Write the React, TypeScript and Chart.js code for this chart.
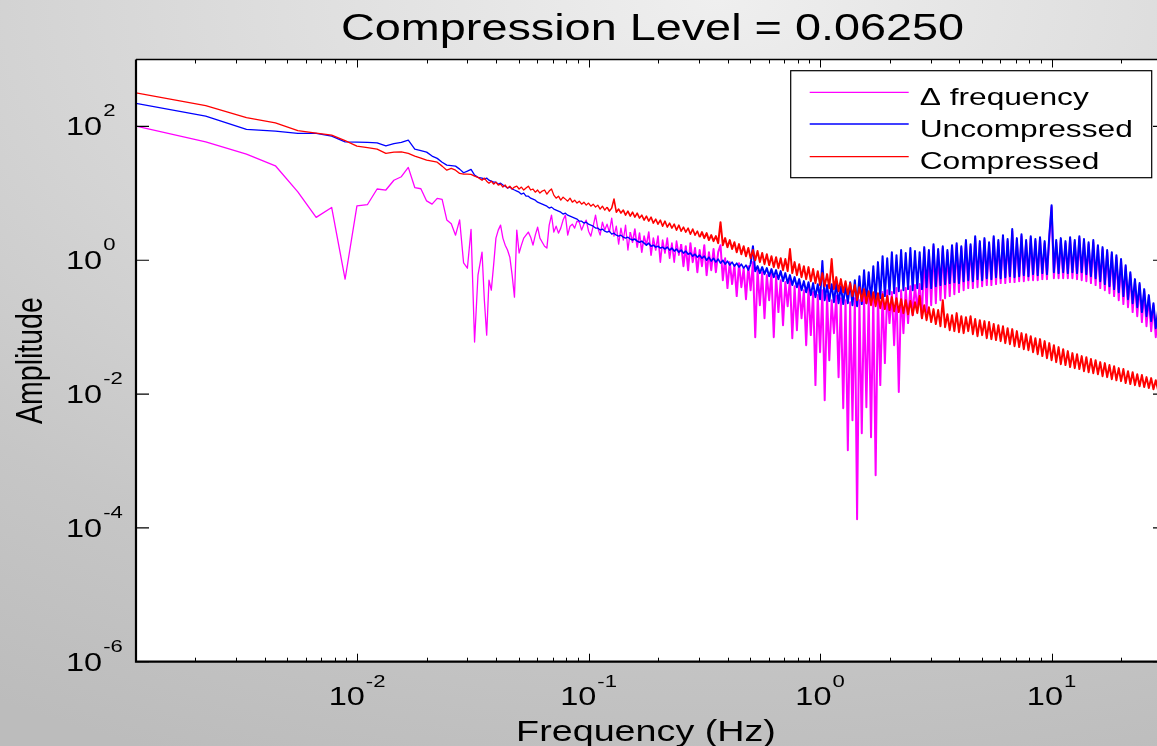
import React, { useEffect, useRef } from 'react';
import { Chart, registerables } from 'chart.js';

Chart.register(...registerables);

// ---------- texts ----------
const TITLE = 'Compression Level = 0.06250';
const X_LABEL = 'Frequency (Hz)';
const Y_LABEL = 'Amplitude';
const SERIES_LABELS = ['\u0394 frequency', 'Uncompressed', 'Compressed'];
const SERIES_COLORS = ['#ff00ff', '#0000ff', '#ff0000'];

// ---------- axes ----------
const X_TICK_EXPONENTS = [-2, -1, 0, 1];
const Y_TICK_EXPONENTS = [2, 0, -2, -4, -6];
const X_MIN = 0.00111;
const X_MAX = 31.2;
const Y_MIN = 1e-6;
const Y_MAX = 1e3;

// ---------- data ----------
const freqHz = [
  0.00111, 0.00222, 0.00333, 0.00444, 0.00555, 0.00666, 0.00777, 0.00888, 0.00999, 0.0111,
  0.01221, 0.01332, 0.01443, 0.01554, 0.01665, 0.01776, 0.01887, 0.01998, 0.02109, 0.0222,
  0.02331, 0.02442, 0.02553, 0.02664, 0.02775, 0.02886, 0.02997, 0.03108, 0.03219, 0.0333,
  0.03467, 0.03548, 0.03631, 0.03715, 0.03802, 0.0389, 0.03981, 0.04074, 0.04169, 0.04266,
  0.04365, 0.04467, 0.04571, 0.04677, 0.04786, 0.04898, 0.05012, 0.05129, 0.05248, 0.0537,
  0.05495, 0.05623, 0.05754, 0.05888, 0.06026, 0.06166, 0.0631, 0.06457, 0.06607, 0.06761,
  0.06918, 0.07079, 0.07244, 0.07413, 0.07586, 0.07762, 0.07943, 0.08128, 0.08318, 0.08511,
  0.0871, 0.08913, 0.0912, 0.09333, 0.0955, 0.09772,
  0.1, 0.1023, 0.1047, 0.1072, 0.1096, 0.1122, 0.1148, 0.1175, 0.1202, 0.123,
  0.1259, 0.1288, 0.1318, 0.1349, 0.138, 0.1413, 0.1445, 0.1479, 0.1514, 0.1549,
  0.1585, 0.1622, 0.166, 0.1698, 0.1738, 0.1778, 0.182, 0.1862, 0.1905, 0.195,
  0.1995, 0.2042, 0.2089, 0.2138, 0.2188, 0.2239, 0.2291, 0.2344, 0.2399, 0.2455,
  0.2512, 0.257, 0.263, 0.2692, 0.2754, 0.2818, 0.2884, 0.2951, 0.302, 0.309,
  0.3162, 0.3236, 0.3311, 0.3388, 0.3467, 0.3548, 0.3631, 0.3715, 0.3802, 0.389,
  0.3981, 0.4074, 0.4169, 0.4266, 0.4365, 0.4467, 0.4571, 0.4677, 0.4786, 0.4898,
  0.5012, 0.5129, 0.5248, 0.537, 0.5495, 0.5623, 0.5754, 0.5888, 0.6026, 0.6166,
  0.631, 0.6457, 0.6607, 0.6761, 0.6918, 0.7079, 0.7244, 0.7413, 0.7586, 0.7762,
  0.7943, 0.8128, 0.8318, 0.8511, 0.871, 0.8913, 0.912, 0.9333, 0.955, 0.9772,
  1, 1.023, 1.047, 1.072, 1.096, 1.122, 1.148, 1.175, 1.202, 1.23,
  1.259, 1.288, 1.318, 1.349, 1.38, 1.413, 1.445, 1.479, 1.514, 1.549,
  1.585, 1.622, 1.66, 1.698, 1.738, 1.778, 1.82, 1.862, 1.905, 1.95,
  1.995, 2.042, 2.089, 2.138, 2.188, 2.239, 2.291, 2.344, 2.399, 2.455,
  2.512, 2.57, 2.63, 2.692, 2.754, 2.818, 2.884, 2.951, 3.02, 3.09,
  3.162, 3.236, 3.311, 3.388, 3.467, 3.548, 3.631, 3.715, 3.802, 3.89,
  3.981, 4.074, 4.169, 4.266, 4.365, 4.467, 4.571, 4.677, 4.786, 4.898,
  5.012, 5.129, 5.248, 5.37, 5.495, 5.623, 5.754, 5.888, 6.026, 6.166,
  6.31, 6.457, 6.607, 6.761, 6.918, 7.079, 7.244, 7.413, 7.586, 7.762,
  7.943, 8.128, 8.318, 8.511, 8.71, 8.913, 9.12, 9.333, 9.55, 9.772,
  10, 10.23, 10.47, 10.72, 10.96, 11.22, 11.48, 11.75, 12.02, 12.3,
  12.59, 12.88, 13.18, 13.49, 13.8, 14.13, 14.45, 14.79, 15.14, 15.49,
  15.85, 16.22, 16.6, 16.98, 17.38, 17.78, 18.2, 18.62, 19.05, 19.5,
  19.95, 20.42, 20.89, 21.38, 21.88, 22.39, 22.91, 23.44, 23.99, 24.55,
  25.12, 25.7, 26.3, 26.92, 27.54, 28.18, 28.84,
];

const deltaAmp = [
  101, 58.8, 38.5, 25.8, 10.5, 4.37, 6.15, 0.52, 6.5, 6.8,
  11.6, 11.2, 15.7, 17.7, 24.4, 12.2, 11.7, 7.7, 6.9, 8.4,
  8.1, 4.0, 3.5, 2.37, 4.0, 0.91, 0.76, 2.9, 0.06, 0.6,
  1.32, 0.253, 0.076, 0.504, 0.357, 0.845, 2.14, 2.82, 3.35, 2.14,
  1.68, 1.42, 1.11, 0.599, 0.281, 2.82, 1.28, 1.68, 2.14, 2.37,
  2.63, 2.21, 1.68, 2.37, 3.13, 2.14, 1.86, 1.62, 1.52, 3.35,
  4.72, 2.63, 3.23, 2.54, 3.02, 3.98, 4.72, 2.37, 3.23, 3.46,
  3.02, 3.84, 3.71, 2.82, 3.46, 3.98, 2.72, 2.29, 3.23, 4.72,
  3.02, 2.37, 3.71, 2.82, 3.46, 2.63, 4.26, 2.29, 3.23, 1.74,
  3.02, 2.0, 3.35, 1.42, 2.63, 1.86, 2.92, 1.57, 2.54, 1.32,
  2.29, 1.68, 2.63, 1.19, 2.14, 1.42, 2.29, 0.937, 2.0, 1.28,
  2.14, 1.07, 1.8, 0.937, 1.93, 1.19, 1.74, 0.816, 1.62, 0.711,
  1.8, 0.937, 1.52, 0.664, 1.42, 0.816, 1.68, 0.599, 1.32, 0.711,
  1.47, 0.664, 1.32, 1.68, 0.504, 1.07, 0.383, 0.937, 0.44, 0.845,
  0.291, 0.905, 0.396, 0.762, 0.262, 0.816, 0.357, 0.937, 0.0709, 0.711,
  0.213, 0.664, 0.136, 0.599, 0.253, 0.642, 0.0709, 0.578, 0.168, 0.504,
  0.107, 0.471, 0.206, 0.54, 0.0684, 0.41, 0.0902, 0.44, 0.136, 0.357,
  0.0538, 0.383, 0.076, 0.334, 0.0136, 0.301, 0.0423, 0.357, 0.0081, 0.301,
  0.0321, 0.253, 0.0814, 0.291, 0.0179, 0.271, 0.00616, 0.253, 0.00145, 0.236,
  0.00407, 0.271, 0.000135, 0.253, 0.0026, 0.291, 0.00637, 0.271, 0.00227, 0.301,
  0.000614, 0.311, 0.0136, 0.334, 0.029, 0.357, 0.115, 0.334, 0.0538, 0.383,
  0.0107, 0.357, 0.0814, 0.383, 0.115, 0.41, 0.151, 0.425, 0.18, 0.44,
  0.136, 1.47, 0.168, 1.32, 0.213, 1.62, 0.228, 1.37, 0.253, 1.52,
  0.271, 1.32, 0.291, 1.57, 0.311, 1.68, 0.334, 1.52, 0.357, 1.86,
  0.383, 1.62, 0.383, 2.14, 0.396, 1.8, 0.41, 2.0, 0.425, 1.74,
  0.425, 2.14, 0.44, 1.86, 0.455, 2.21, 0.455, 1.93, 0.471, 2.72,
  0.471, 2.0, 0.487, 2.29, 0.487, 1.86, 0.504, 2.14, 0.504, 1.93,
  0.504, 2.07, 0.522, 1.8, 0.522, 2.14, 6.22, 0.54, 1.86, 0.54,
  2.0, 0.54, 1.8, 0.54, 2.07, 0.54, 1.86, 0.522, 2.14, 0.504,
  1.93, 0.487, 1.74, 0.455, 1.86, 0.425, 1.57, 0.383, 1.47, 0.357,
  1.32, 0.322, 1.23, 0.291, 1.11, 0.253, 0.97, 0.221, 0.789, 0.199,
  0.62, 0.168, 0.487, 0.146, 0.425, 0.119, 0.345, 0.103, 0.281, 0.0872,
  0.213, 0.0709, 0.168,
];

const uncompressedAmp = [
  221, 143, 90.2, 85.1, 78.6, 78.6, 71.6, 58.8, 58.2, 57.6,
  56.9, 51.3, 55.3, 57.6, 62.4, 45.8, 43.5, 41.3, 36.0, 33.3,
  29.2, 26.4, 25.9, 25.5, 23.0, 20.3, 21.5, 22.8, 18.7, 17.3,
  16.9, 16.3, 16.9, 15.7, 15.2, 14.7, 14.7, 13.7, 14.2, 13.3,
  12.8, 12.0, 12.4, 11.6, 11.2, 10.8, 10.4, 9.72, 10.1, 9.07,
  9.07, 8.47, 8.19, 7.91, 7.38, 7.14, 6.89, 6.66, 6.43, 6.01,
  6.22, 5.81, 5.61, 5.42, 5.23, 4.89, 5.06, 4.72, 4.56, 4.41,
  4.26, 4.12, 3.84, 3.84, 3.59, 3.71, 3.46, 3.35, 3.23, 3.02,
  3.02, 2.82, 2.92, 2.72, 2.63, 2.72, 2.45, 2.54, 2.37, 2.29,
  2.37, 2.21, 2.14, 2.21, 2.07, 2.0, 2.07, 1.93, 1.86, 1.93,
  1.8, 1.68, 1.8, 1.62, 1.68, 1.57, 1.62, 1.52, 1.57, 1.47,
  1.57, 1.42, 1.52, 1.37, 1.47, 1.32, 1.42, 1.28, 1.37, 1.23,
  1.28, 1.15, 1.23, 1.11, 1.19, 1.07, 1.15, 1.0, 1.11, 0.97,
  1.07, 0.937, 1.04, 0.905, 1.0, 0.874, 0.97, 0.845, 0.937, 0.816,
  0.905, 0.789, 0.874, 0.762, 0.845, 0.711, 0.874, 1.62, 0.687, 0.816,
  0.642, 0.789, 0.62, 0.762, 0.578, 0.737, 0.559, 0.711, 0.522, 0.687,
  0.487, 0.642, 0.455, 0.599, 0.425, 0.559, 0.396, 0.522, 0.357, 0.487,
  0.333, 0.47, 0.301, 0.455, 0.281, 0.439, 0.262, 0.97, 0.253, 0.425,
  0.245, 0.439, 0.236, 0.455, 0.228, 0.41, 0.221, 0.425, 0.228, 0.47,
  0.213, 0.504, 0.206, 0.578, 0.221, 0.711, 0.228, 0.664, 0.245, 0.816,
  0.253, 0.937, 0.271, 1.15, 0.291, 1.07, 0.311, 1.32, 0.322, 1.19,
  0.345, 1.42, 0.357, 1.28, 0.37, 1.52, 0.357, 1.37, 0.383, 1.32,
  0.37, 1.57, 0.396, 1.42, 0.383, 1.74, 0.41, 1.47, 0.425, 1.62,
  0.439, 1.42, 0.455, 1.68, 0.47, 1.8, 0.455, 1.62, 0.487, 2.0,
  0.504, 1.74, 0.487, 2.29, 0.522, 1.93, 0.504, 2.14, 0.54, 1.86,
  0.522, 2.29, 0.559, 2.0, 0.54, 2.37, 0.559, 2.07, 0.578, 2.92,
  0.559, 2.14, 0.578, 2.45, 0.599, 2.0, 0.578, 2.29, 0.62, 2.07,
  0.599, 2.21, 0.642, 1.93, 0.62, 2.29, 6.66, 0.664, 2.0, 0.642,
  2.14, 0.664, 1.93, 0.642, 2.21, 0.664, 2.0, 0.642, 2.29, 0.664,
  2.07, 0.62, 1.86, 0.578, 2.0, 0.54, 1.68, 0.487, 1.57, 0.44,
  1.42, 0.41, 1.32, 0.37, 1.19, 0.333, 1.04, 0.291, 0.845, 0.262,
  0.664, 0.228, 0.522, 0.199, 0.455, 0.168, 0.37, 0.146, 0.301, 0.123,
  0.228, 0.0966, 0.18,
];

const compressedAmp = [
  318, 205, 135, 113, 86.5, 79.4, 74.1, 61.4, 50.8, 48.2,
  45.8, 39.5, 41.3, 41.7, 39.5, 36.0, 33.6, 31.3, 30.3, 29.2,
  25.5, 22.2, 23.6, 22.2, 19.8, 19.4, 19.4, 19.2, 18.1, 17.3,
  15.7, 16.9, 15.2, 14.2, 15.2, 13.7, 14.7, 13.3, 13.7, 12.4,
  13.3, 12.0, 12.8, 11.6, 12.4, 12.8, 11.6, 12.4, 11.2, 12.0,
  12.8, 11.2, 11.6, 10.4, 11.2, 10.1, 10.8, 11.2, 9.72, 10.8,
  11.6, 9.4, 8.47, 9.07, 7.91, 8.77, 8.19, 7.64, 8.47, 7.38,
  7.91, 7.14, 7.64, 6.89, 7.38, 6.66, 7.14, 6.43, 6.89, 6.22,
  6.66, 5.81, 6.43, 5.61, 6.22, 5.42, 6.01, 8.19, 5.23, 5.81,
  5.06, 5.61, 4.72, 5.42, 4.56, 5.23, 4.41, 5.06, 4.26, 4.72,
  3.98, 4.56, 3.84, 4.41, 3.59, 4.12, 3.46, 3.98, 3.23, 3.84,
  3.13, 3.59, 3.02, 3.46, 2.82, 3.35, 2.72, 3.13, 2.63, 3.02,
  2.45, 2.92, 2.37, 2.72, 2.21, 2.63, 2.14, 2.54, 2.0, 2.37,
  1.93, 2.29, 1.8, 3.71, 1.68, 2.14, 1.57, 2.0, 1.47, 1.86,
  1.32, 1.74, 1.23, 1.62, 1.15, 1.52, 1.07, 1.42, 1.0, 1.37,
  0.937, 1.28, 0.874, 1.23, 0.845, 1.15, 0.789, 1.11, 0.762, 1.07,
  0.711, 1.04, 0.687, 1.47, 0.642, 0.937, 0.599, 0.874, 0.559, 0.816,
  0.522, 0.789, 0.487, 0.737, 0.455, 0.687, 0.425, 0.642, 0.41, 0.62,
  0.383, 1.04, 0.37, 0.559, 0.345, 0.522, 0.333, 0.487, 0.311, 0.455,
  0.291, 0.425, 0.253, 0.396, 0.245, 0.37, 0.228, 0.345, 0.213, 0.333,
  0.206, 0.322, 0.192, 0.311, 0.186, 0.291, 0.18, 0.281, 0.173, 0.271,
  0.168, 0.262, 0.162, 0.253, 0.156, 0.245, 0.151, 0.236, 0.162, 0.291,
  0.136, 0.213, 0.127, 0.199, 0.119, 0.186, 0.111, 0.18, 0.103, 0.253,
  0.1, 0.156, 0.0902, 0.151, 0.0872, 0.162, 0.0842, 0.146, 0.0814, 0.141,
  0.0872, 0.146, 0.0786, 0.132, 0.0733, 0.127, 0.076, 0.123, 0.0685, 0.119,
  0.0662, 0.111, 0.064, 0.107, 0.0618, 0.103, 0.0577, 0.0966, 0.0557, 0.0934,
  0.052, 0.0872, 0.0503, 0.0814, 0.0469, 0.0786, 0.0453, 0.0733, 0.0423, 0.0685,
  0.0395, 0.0662, 0.0369, 0.0618, 0.0344, 0.0577, 0.0321, 0.0538, 0.03, 0.0503,
  0.028, 0.0469, 0.0271, 0.0438, 0.0253, 0.0409, 0.0244, 0.0395, 0.0236, 0.0369,
  0.022, 0.0356, 0.0212, 0.0333, 0.0205, 0.0321, 0.0198, 0.03, 0.0185, 0.029,
  0.0179, 0.0271, 0.0167, 0.0261, 0.0161, 0.0244, 0.0156, 0.0236, 0.0146, 0.022,
  0.0141, 0.0212, 0.0136, 0.0198, 0.0131, 0.0192, 0.0127, 0.0179, 0.0123, 0.0173,
  0.0118, 0.0161, 0.0114,
];

const SERIES_VALUES = [deltaAmp, uncompressedAmp, compressedAmp];
// stroke weights: [thin, medium from MID_FROM_HZ, heavy from DENSE_FROM_HZ]
const MID_FROM_HZ = [0.15, 0.15, 0.12];
const DENSE_FROM_HZ = [0.25, 0.5, 0.3];

// ---------- layout ----------
const CANVAS_W = 1170;
const CANVAS_H = 746;
const FONT = "'Liberation Sans', Arial, Helvetica, sans-serif";
const STRETCH = 1.3;

function drawStretched(ctx: CanvasRenderingContext2D, text: string, x: number, y: number, size: number, align: string, sx: number) {
  ctx.save();
  ctx.font = `${size}px ${FONT}`;
  ctx.textBaseline = 'alphabetic';
  ctx.textAlign = 'left';
  const w = ctx.measureText(text).width;
  ctx.translate(x, y);
  ctx.scale(sx, 1);
  const dx = align === 'center' ? -w / 2 : align === 'right' ? -w : 0;
  ctx.fillText(text, dx, 0);
  ctx.restore();
  return w * sx;
}

function textWidth(ctx: CanvasRenderingContext2D, text: string, size: number, sx: number) {
  ctx.save();
  ctx.font = `${size}px ${FONT}`;
  const w = ctx.measureText(text).width * sx;
  ctx.restore();
  return w;
}

const matlabAxesPlugin = {
  id: 'matlabAxes',
  beforeDatasetsDraw(chart: any) {
    const { ctx, chartArea: a } = chart;
    ctx.save();
    ctx.fillStyle = '#ffffff';
    ctx.fillRect(a.left, a.top, a.right - a.left, a.bottom - a.top);
    ctx.restore();
  },
  afterDraw(chart: any) {
    const { ctx, chartArea: a } = chart;
    const xs = chart.scales.x;
    const ys = chart.scales.y;
    ctx.save();
    ctx.fillStyle = '#000';
    ctx.strokeStyle = '#000';

    // ticks on x (bottom & top), inward
    ctx.lineWidth = 1;
    const dMin = Math.floor(Math.log10(X_MIN));
    const dMax = Math.ceil(Math.log10(X_MAX));
    for (let d = dMin; d <= dMax; d++) {
      for (let m = 1; m <= 9; m++) {
        const v = m * Math.pow(10, d);
        if (v < X_MIN || v > X_MAX) continue;
        const px = Math.round(xs.getPixelForValue(v)) + 0.5;
        const len = m === 1 ? 8 : 4;
        ctx.beginPath();
        ctx.moveTo(px, a.bottom);
        ctx.lineTo(px, a.bottom - len);
        ctx.moveTo(px, a.top);
        ctx.lineTo(px, a.top + len);
        ctx.stroke();
      }
    }
    // ticks on y (left & right), inward
    ctx.lineWidth = 1.2;
    Y_TICK_EXPONENTS.forEach((e) => {
      const py = ys.getPixelForValue(Math.pow(10, e));
      ctx.beginPath();
      ctx.moveTo(a.left, py);
      ctx.lineTo(a.left + 13, py);
      ctx.moveTo(a.right, py);
      ctx.lineTo(a.right - 13, py);
      ctx.stroke();
    });

    // box
    ctx.lineWidth = 2.2;
    ctx.beginPath();
    ctx.moveTo(a.left, a.top);
    ctx.lineTo(a.left, a.bottom);
    ctx.lineTo(a.right, a.bottom);
    ctx.stroke();
    ctx.lineWidth = 1.5;
    ctx.beginPath();
    ctx.moveTo(a.left, a.top);
    ctx.lineTo(a.right, a.top);
    ctx.lineTo(a.right, a.bottom);
    ctx.stroke();

    // x tick labels
    X_TICK_EXPONENTS.forEach((e) => {
      const px = xs.getPixelForValue(Math.pow(10, e));
      const sup = String(e);
      const w10 = textWidth(ctx, '10', 25, STRETCH);
      const ws = textWidth(ctx, sup, 17, STRETCH);
      const start = px - (w10 + 1 + ws) / 2;
      drawStretched(ctx, '10', start, a.bottom + 43.5, 25, 'left', STRETCH);
      drawStretched(ctx, sup, start + w10 + 1, a.bottom + 25.5, 17, 'left', STRETCH);
    });
    // y tick labels
    Y_TICK_EXPONENTS.forEach((e) => {
      const py = ys.getPixelForValue(Math.pow(10, e));
      const sup = String(e);
      const left = a.left - 70;
      const w10 = drawStretched(ctx, '10', left, py + 9, 25, 'left', STRETCH);
      drawStretched(ctx, sup, left + w10 + 1, py - 10, 17, 'left', STRETCH);
    });

    // title & axis titles
    const cx = (a.left + a.right) / 2;
    drawStretched(ctx, TITLE, cx + 1.5, 40, 36, 'center', STRETCH);
    drawStretched(ctx, X_LABEL, cx - 5, 741, 29, 'center', STRETCH);
    ctx.save();
    ctx.font = `28.5px ${FONT}`;
    ctx.textBaseline = 'alphabetic';
    ctx.textAlign = 'center';
    ctx.translate(42, (a.top + a.bottom) / 2);
    ctx.scale(STRETCH, 1);
    ctx.rotate(-Math.PI / 2);
    ctx.fillText(Y_LABEL, 0, 0);
    ctx.restore();

    // legend
    const boxW = 361;
    const boxH = 107;
    const bx = a.right - 14.3 - boxW;
    const by = a.top + 11.2;
    ctx.fillStyle = '#fff';
    ctx.fillRect(bx, by, boxW, boxH);
    ctx.lineWidth = 1.2;
    ctx.strokeStyle = '#000';
    ctx.strokeRect(bx, by, boxW, boxH);
    const rowOffsets = [21.6, 53.3, 86];
    SERIES_LABELS.forEach((label, i) => {
      const ry = by + rowOffsets[i];
      ctx.strokeStyle = SERIES_COLORS[i];
      ctx.lineWidth = 1.3;
      ctx.beginPath();
      ctx.moveTo(bx + 19, ry);
      ctx.lineTo(bx + 118, ry);
      ctx.stroke();
      ctx.fillStyle = '#000';
      drawStretched(ctx, label, bx + 129, ry + 12.5, 24, 'left', 1.32);
    });
    ctx.restore();
  },
};

export default function App() {
  const canvasRef = useRef<HTMLCanvasElement | null>(null);

  useEffect(() => {
    const canvas = canvasRef.current;
    if (!canvas) return;
    const n = Math.min(freqHz.length, deltaAmp.length, uncompressedAmp.length, compressedAmp.length);
    const datasets = SERIES_LABELS.map((label, si) => ({
      label,
      data: freqHz.slice(0, n).map((f, i) => ({ x: f, y: SERIES_VALUES[si][i] })),
      borderColor: SERIES_COLORS[si],
      backgroundColor: SERIES_COLORS[si],
      borderWidth: 1.3,
      pointRadius: 0,
      tension: 0,
      fill: false,
      borderJoinStyle: 'round' as const,
      segment: {
        borderWidth: (c: any) =>
          c.p0.parsed.x >= DENSE_FROM_HZ[si] ? 2 : c.p0.parsed.x >= MID_FROM_HZ[si] ? 1.6 : 1.3,
      },
      order: 2 - si,
    }));
    const chart = new Chart(canvas, {
      type: 'line',
      data: { datasets },
      options: {
        animation: false,
        responsive: false,
        devicePixelRatio: 1,
        events: [],
        layout: { padding: { left: 136, right: CANVAS_W - 1166, top: 59.5, bottom: CANVAS_H - 661.7 } },
        plugins: {
          legend: { display: false },
          tooltip: { enabled: false },
          title: { display: false, text: TITLE },
        },
        scales: {
          x: { type: 'logarithmic', min: X_MIN, max: X_MAX, display: false },
          y: { type: 'logarithmic', min: Y_MIN, max: Y_MAX, display: false },
        },
      },
      plugins: [matlabAxesPlugin],
    });
    return () => chart.destroy();
  }, []);

  return (
    <div
      style={{
        position: 'fixed',
        left: 0,
        top: 0,
        width: 1157,
        height: 746,
        overflow: 'hidden',
        background:
          'radial-gradient(ellipse 120% 110% at 62% 0%, #efefef 0%, #dcdcdc 35%, #c6c6c6 75%, #bcbcbc 100%)',
      }}
    >
      <canvas ref={canvasRef} width={CANVAS_W} height={CANVAS_H} style={{ display: 'block', width: CANVAS_W, height: CANVAS_H }} />
    </div>
  );
}
